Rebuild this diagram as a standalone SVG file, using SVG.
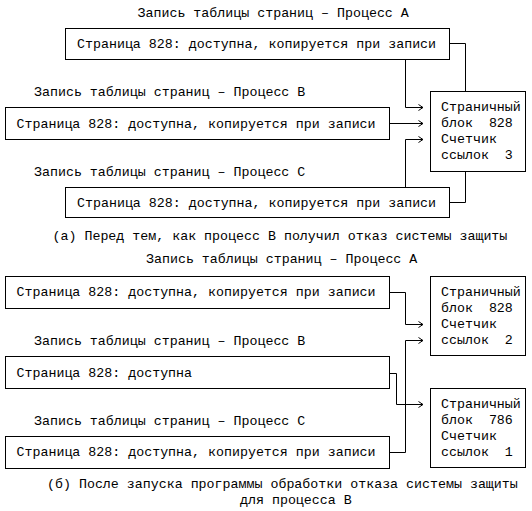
<svg xmlns="http://www.w3.org/2000/svg" width="532" height="511" viewBox="0 0 532 511">
<style>
text{font-family:"Liberation Mono","Courier New",monospace;font-size:13.3px;fill:#000;white-space:pre}
.box{fill:#fff;stroke:#000;stroke-width:1}
.wire{fill:none;stroke:#000;stroke-width:1}
</style>
<defs>
<marker id="arr" markerUnits="userSpaceOnUse" markerWidth="8" markerHeight="8" viewBox="-6 -4 7 8" refX="0" refY="0" orient="auto" overflow="visible">
<path d="M-4.5,-3 L0,0 L-4.5,3" fill="none" stroke="#000" stroke-width="1"/>
</marker>
</defs>
<rect width="532" height="511" fill="#fff"/>

<!-- Part (a) -->
<g id="a-title-A"><text x="137.5" y="16.5" xml:space="preserve">Запись таблицы страниц – Процесс А</text></g>
<g id="a-pte-A"><rect class="box" x="65.5" y="28.5" width="384" height="31"/><text x="77" y="47.5" xml:space="preserve">Страница 828: доступна, копируется при записи</text></g>
<g id="a-title-B"><text x="34" y="95.5" xml:space="preserve">Запись таблицы страниц – Процесс В</text></g>
<g id="a-pte-B"><rect class="box" x="5.5" y="107.5" width="384" height="32"/><text x="16.5" y="127.5" xml:space="preserve">Страница 828: доступна, копируется при записи</text></g>
<g id="a-title-C"><text x="34" y="175.5" xml:space="preserve">Запись таблицы страниц – Процесс С</text></g>
<g id="a-pte-C"><rect class="box" x="65.5" y="187.5" width="384" height="30"/><text x="77" y="206.5" xml:space="preserve">Страница 828: доступна, копируется при записи</text></g>
<g id="a-frame-828"><rect class="box" x="430.5" y="91.5" width="95" height="80"/>
<text x="441" y="111" xml:space="preserve">Страничный</text>
<text x="441" y="127" xml:space="preserve">блок  828</text>
<text x="441" y="143" xml:space="preserve">Счетчик</text>
<text x="441" y="159" xml:space="preserve">ссылок  3</text></g>
<g id="a-caption"><text x="52.5" y="240" xml:space="preserve">(а) Перед тем, как процесс В получил отказ системы защиты</text></g>

<!-- Part (b) -->
<g id="b-title-A"><text x="146" y="262.5" xml:space="preserve">Запись таблицы страниц – Процесс А</text></g>
<g id="b-pte-A"><rect class="box" x="5.5" y="276.5" width="384" height="32"/><text x="16.5" y="295.5" xml:space="preserve">Страница 828: доступна, копируется при записи</text></g>
<g id="b-title-B"><text x="34" y="344.5" xml:space="preserve">Запись таблицы страниц – Процесс В</text></g>
<g id="b-pte-B"><rect class="box" x="5.5" y="356.5" width="384" height="32"/><text x="16.5" y="376.5" xml:space="preserve">Страница 828: доступна</text></g>
<g id="b-title-C"><text x="34" y="424.5" xml:space="preserve">Запись таблицы страниц – Процесс С</text></g>
<g id="b-pte-C"><rect class="box" x="5.5" y="436.5" width="384" height="32"/><text x="16.5" y="455.5" xml:space="preserve">Страница 828: доступна, копируется при записи</text></g>
<g id="b-frame-828"><rect class="box" x="430.5" y="276.5" width="95" height="79"/>
<text x="441" y="295.5" xml:space="preserve">Страничный</text>
<text x="441" y="311.5" xml:space="preserve">блок  828</text>
<text x="441" y="327.5" xml:space="preserve">Счетчик</text>
<text x="441" y="343.5" xml:space="preserve">ссылок  2</text></g>
<g id="b-frame-786"><rect class="box" x="430.5" y="388.5" width="95" height="79"/>
<text x="441" y="407.5" xml:space="preserve">Страничный</text>
<text x="441" y="423.5" xml:space="preserve">блок  786</text>
<text x="441" y="439.5" xml:space="preserve">Счетчик</text>
<text x="441" y="455.5" xml:space="preserve">ссылок  1</text></g>
<g id="b-caption"><text x="47" y="487.5" xml:space="preserve">(б) После запуска программы обработки отказа системы защиты</text>
<text x="240" y="503.5" xml:space="preserve">для процесса В</text></g>

<g id="connectors">
<path class="wire" d="M449.5,43.5 H465.5 V91.5"/>
<path class="wire" d="M405.5,59.5 V107.5 H423" marker-end="url(#arr)"/>
<path class="wire" d="M389.5,123.5 H423" marker-end="url(#arr)"/>
<path class="wire" d="M405.5,187.5 V139.5 H423" marker-end="url(#arr)"/>
<path class="wire" d="M465.5,171.5 V202.5 H449.5"/>
<path class="wire" d="M389.5,292.5 H405.5 V324.5 H423" marker-end="url(#arr)"/>
<path class="wire" d="M389.5,373.5 H396.5 V404.5 H423" marker-end="url(#arr)"/>
<path class="wire" d="M389.5,452.5 H405.5 V340.5 H423" marker-end="url(#arr)"/>
</g>
</svg>
